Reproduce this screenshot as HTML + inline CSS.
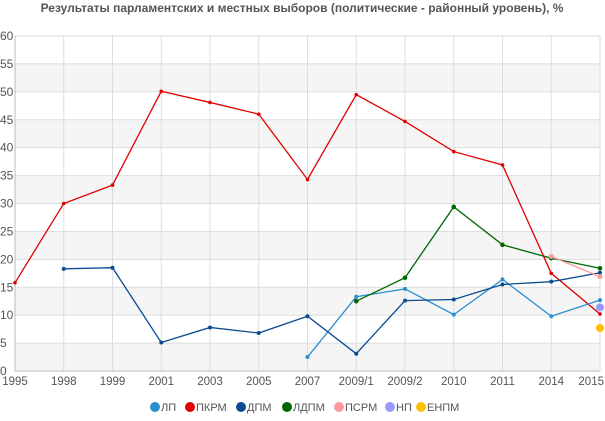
<!DOCTYPE html>
<html><head><meta charset="utf-8"><style>
body{margin:0;background:#fff;width:605px;height:416px;overflow:hidden}
text{font-family:"Liberation Sans","DejaVu Sans",sans-serif}
</style></head><body>
<svg id="s" width="605" height="416" xmlns="http://www.w3.org/2000/svg"></svg>
<script>
const s=document.getElementById('s');
const L=15,R=600,T=36,B=371;
const cats=['1995','1998','1999','2001','2003','2005','2007','2009/1','2009/2','2010','2011','2014','2015'];
const X=i=>L+i*(R-L)/12, Y=v=>B-v*(B-T)/60;
let h='';
h+=`<text x="302" y="12" text-anchor="middle" font-size="12" font-weight="bold" fill="#555">Результаты парламентских и местных выборов (политические - районный уровень), %</text>`;
for(let k=0;k<12;k+=2){let a=55-k*5;h+=`<rect x="${L}" y="${Y(a)}" width="${R-L}" height="${Y(a-5)-Y(a)}" fill="#f5f5f5"/>`;}
for(let v=0;v<=60;v+=5){h+=`<line x1="${L}" x2="${R}" y1="${Y(v)}" y2="${Y(v)}" stroke="#ddd"/>`;h+=`<text x="0" y="${Y(v)+4}" font-size="12" fill="#555">${v}</text>`;}
cats.forEach((c,i)=>{h+=`<line x1="${X(i)}" x2="${X(i)}" y1="${T}" y2="${B}" stroke="#ddd"/>`;
 const last=i==12;h+=`<text x="${last?604:X(i)}" y="385" text-anchor="${last?'end':'middle'}" font-size="11.5" fill="#555">${c}</text>`;});
h+=`<line x1="${L}" x2="${R}" y1="${B}" y2="${B}" stroke="#bbb"/><line x1="${L}" x2="${L}" y1="${T}" y2="${B}" stroke="#bbb"/>`;
const S=[
['#e00000',0,[15.8,30,33.3,50.1,48.1,46,34.3,49.5,44.7,39.3,36.9,17.5,10.2],1.8],
['#2a8fd0',6,[2.5,13.3,14.7,10.1,16.4,9.8,12.7],2],
['#0a4c8f',1,[18.3,18.5,5.1,7.8,6.8,9.8,3.1,12.6,12.8,15.5,16,17.6],2],
['#006600',7,[12.5,16.7,29.4,22.6,20.2,18.4],2.3],
['#ff9999',11,[20.5,16.9],2.5],
['#9999ff',12,[11.4],4],
['#ffc000',12,[7.7],4]];
S.forEach(([c,st,d,r])=>{
 const p=d.map((v,j)=>[X(st+j),Y(v)]);
 if(p.length>1)h+=`<polyline fill="none" stroke="${c}" stroke-width="1.3" points="${p.map(q=>q.join(',')).join(' ')}"/>`;
 p.forEach(q=>h+=`<circle cx="${q[0]}" cy="${q[1]}" r="${r}" fill="${c}"/>`);
});
const lg=[['#2a8fd0','ЛП',155],['#e00000','ПКРМ',190],['#0a4c8f','ДПМ',241],['#006600','ЛДПМ',287],['#ff9999','ПСРМ',339],['#9999ff','НП',390],['#ffc000','ЕНПМ',421]];
lg.forEach(([c,t,x])=>{h+=`<circle cx="${x}" cy="407" r="5" fill="${c}"/><text x="${x+6}" y="411" font-size="11" fill="#555">${t}</text>`;});
s.innerHTML=h;
</script>
</body></html>
